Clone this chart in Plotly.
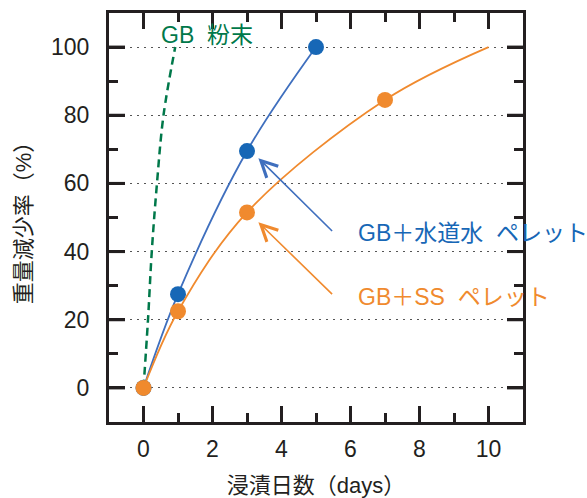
import plotly.graph_objects as go

# Weight-loss data (immersion days vs. weight loss %)
tap_days = [0, 1, 3, 5]
tap_loss = [0, 27.5, 69.5, 100]

ss_days = [0, 1, 3, 7]
ss_loss = [0, 22.5, 51.5, 84.5]
ss_curve_days = [0, 1, 3, 7, 10]
ss_curve_loss = [0, 22.5, 51.5, 84.5, 100]

powder_days = [0, 0.13, 0.24, 0.39, 0.58, 0.92]
powder_loss = [0, 20, 40, 60, 80, 100]

x_ticks = [0, 2, 4, 6, 8, 10]
y_ticks = [0, 20, 40, 60, 80, 100]

BLUE_LINE = "#3f6fbe"
BLUE_MARK = "#1767b6"
ORANGE = "#f08a2e"
GREEN = "#00784a"
INK = "#231f20"
FONT = "Liberation Sans, Noto Sans CJK JP, sans-serif"

fig = go.Figure()

# GB powder: dashed curve
fig.add_trace(go.Scatter(
    x=powder_days, y=powder_loss, mode="lines",
    line=dict(color=GREEN, width=2.5, dash="8px,5px", shape="spline"),
    hoverinfo="skip"))

# GB + tap water pellets
fig.add_trace(go.Scatter(
    x=tap_days, y=tap_loss, mode="lines",
    line=dict(color=BLUE_LINE, width=1.8, shape="spline"),
    hoverinfo="skip"))
fig.add_trace(go.Scatter(
    x=tap_days, y=tap_loss, mode="markers",
    marker=dict(color=BLUE_MARK, size=16, line=dict(width=0))))

# GB + SS pellets
fig.add_trace(go.Scatter(
    x=ss_curve_days, y=ss_curve_loss, mode="lines",
    line=dict(color=ORANGE, width=1.8, shape="spline"),
    hoverinfo="skip"))
fig.add_trace(go.Scatter(
    x=ss_days, y=ss_loss, mode="markers",
    marker=dict(color=ORANGE, size=16, line=dict(width=0))))

# Arrows pointing at the curves
for tip, tail, col in [((3.33, 67.4), (5.51, 45.6), BLUE_LINE),
                       ((3.33, 48.6), (5.51, 27.1), ORANGE)]:
    fig.add_annotation(
        x=tip[0], y=tip[1], ax=tail[0], ay=tail[1],
        xref="x", yref="y", axref="x", ayref="y",
        text="", showarrow=True, arrowhead=5, arrowsize=2,
        arrowwidth=1.6, arrowcolor=col)

# Series labels
labels = [
    (6.15, 45.6, "GB＋水道水\u00a0\u00a0ペレット", BLUE_MARK),
    (6.15, 26.8, "GB＋SS\u00a0\u00a0ペレット", ORANGE),
    (0.45, 103.6, "GB\u00a0\u00a0粉末", GREEN),
]
for lx, ly, txt, col in labels:
    fig.add_annotation(
        x=lx, y=ly, xref="x", yref="y", text=txt, showarrow=False,
        xanchor="left", yanchor="middle",
        font=dict(family=FONT, size=23, color=col))

# Major tick marks on all four sides of the frame (16 px long, pointing inward)
TICK_X = 16 / 409   # fraction of plot height
TICK_Y = 16 / 414   # fraction of plot width
tick_line = dict(color=INK, width=3)
for xv in x_ticks:
    fig.add_shape(type="line", xref="x", yref="paper", x0=xv, x1=xv,
                  y0=0, y1=TICK_X, line=tick_line)
    fig.add_shape(type="line", xref="x", yref="paper", x0=xv, x1=xv,
                  y0=1, y1=1 - TICK_X, line=tick_line)
for yv in y_ticks:
    fig.add_shape(type="line", xref="paper", yref="y", x0=0, x1=TICK_Y,
                  y0=yv, y1=yv, line=tick_line)
    fig.add_shape(type="line", xref="paper", yref="y", x0=1, x1=1 - TICK_Y,
                  y0=yv, y1=yv, line=tick_line)

axis_common = dict(
    showline=True, linewidth=3, linecolor=INK, mirror="allticks",
    ticks="inside", ticklen=16, tickwidth=3, tickcolor=INK,
    tickfont=dict(family=FONT, size=23, color=INK),
    zeroline=False, automargin=False, tickmode="linear", tick0=0,
)

fig.update_xaxes(
    range=[-1, 11], dtick=2, showgrid=False,
    minor=dict(ticks="inside", ticklen=9, tickwidth=3, tickcolor=INK, dtick=1, tick0=0),
    ticklabelstandoff=4,
    title=dict(text="浸漬日数（days）", font=dict(family=FONT, size=22, color=INK), standoff=18),
    **axis_common)
fig.update_yaxes(
    range=[-10, 110], dtick=20,
    showgrid=True, gridcolor="#555555", gridwidth=1, griddash="2px,5px",
    minor=dict(ticks="inside", ticklen=9, tickwidth=3, tickcolor=INK, dtick=10, tick0=0, showgrid=False),
    ticklabelstandoff=12,
    title=dict(text="重量減少率（%）", font=dict(family=FONT, size=22, color=INK), standoff=14),
    **axis_common)

fig.update_layout(
    width=587, height=498,
    margin=dict(l=109, r=64, t=13, b=76),
    paper_bgcolor="white", plot_bgcolor="white",
    showlegend=False,
    font=dict(family=FONT, color=INK),
)

fig.write_html("out.html")
